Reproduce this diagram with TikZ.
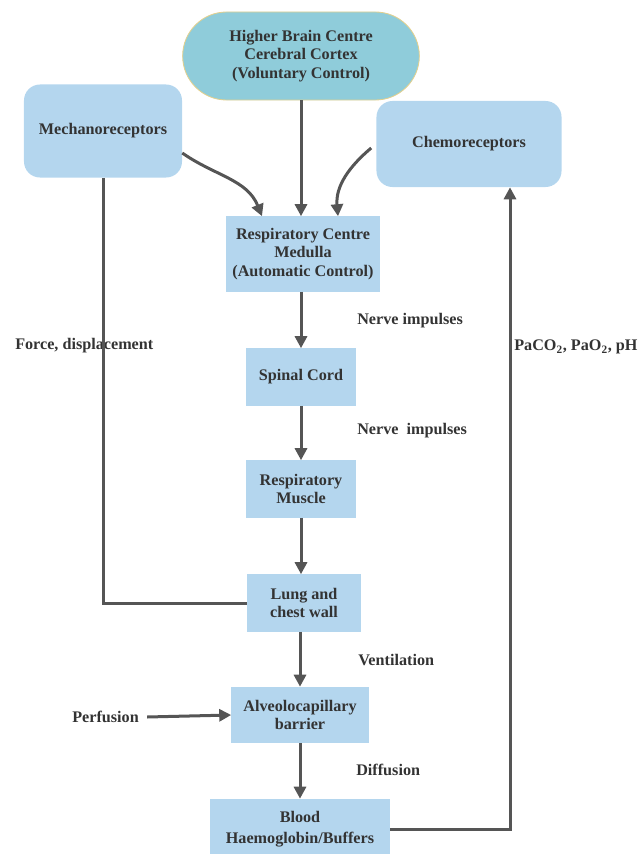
\documentclass[tikz,border=0pt]{standalone}
\usepackage{fontspec}
\setmainfont{Liberation Serif}[BoldFont={Liberation Serif Bold}]
\usepackage{xcolor}
\usetikzlibrary{shapes,arrows.meta,positioning,calc}

\definecolor{boxblue}{HTML}{B4D6EE}
\definecolor{cortexfill}{HTML}{8FCCDA}
\definecolor{cortexedge}{HTML}{E2D08E}
\definecolor{linegray}{HTML}{555555}
\definecolor{txtgray}{HTML}{333333}

\begin{document}
\begin{tikzpicture}[
    x=0.025cm, y=0.025cm,
    every node/.style={font=\rmfamily\bfseries\fontsize{11.5}{13}\selectfont, text=txtgray},
    box/.style={fill=boxblue, align=center, inner sep=2pt},
    roundbox/.style={box, rounded corners=0.4cm},
    lbl/.style={anchor=west, inner sep=0pt},
    link/.style={draw=linegray, line width=0.075cm},
    arrow/.style={link, -{Triangle[length=0.3cm, width=0.3cm]}}
]
\useasboundingbox (0,0) rectangle (643,-854);

% Top: voluntary control
\node[rounded rectangle, fill=cortexfill, draw=cortexedge, line width=0.6pt, align=center,
      minimum width=6.15cm, minimum height=2.2cm] (cortex) at (301,-56)
      {Higher Brain Centre\\Cerebral Cortex\\(Voluntary Control)};

% Receptors
\node[roundbox, minimum width=3.95cm, minimum height=2.325cm] (mech) at (103,-131) {Mechanoreceptors};
\node[roundbox, minimum width=4.625cm, minimum height=2.15cm] (chemo) at (469,-144) {Chemoreceptors};

% Main chain
\node[box, minimum width=3.825cm, minimum height=1.875cm] (centre) at (303,-254)
      {Respiratory Centre\\Medulla\\(Automatic Control)};
\node[box, minimum width=2.725cm, minimum height=1.425cm] (spinal) at (301,-377) {Spinal Cord};
\node[box, minimum width=2.725cm, minimum height=1.425cm] (muscle) at (301,-489) {Respiratory\\Muscle};
\node[box, minimum width=2.85cm, minimum height=1.425cm] (lung) at (304,-603) {Lung and\\chest wall};
\node[box, minimum width=3.425cm, minimum height=1.4cm] (alveo) at (300,-715) {Alveolocapillary\\barrier};
\node[box, minimum width=4.5cm, minimum height=1.5cm] (blood) at (300,-829) {Blood\\[2pt]Haemoglobin/Buffers};

% Labels
\node[lbl] (nerve1) at (357,-321) {Nerve impulses};
\node[lbl] (nerve2) at (357,-431) {Nerve\ \ impulses};
\node[lbl] (vent) at (358,-660) {Ventilation};
\node[lbl] (diff) at (356,-770) {Diffusion};
\node[lbl] (force) at (15,-346) {Force, displacement};
\node[lbl] (gases) at (514,-347) {PaCO\textsubscript{2}, PaO\textsubscript{2}, pH};
\node[lbl] (perf) at (72,-717) {Perfusion};

% Arrows
\draw[arrow] (cortex.south) -- (cortex.south |- centre.north);
\draw[arrow] ($(mech.east)+(0,-22)$) to[out=-35, in=112] ($(centre.north)+(-41,0)$);
\draw[arrow] ($(chemo.west)+(-5,-4)$) to[out=-140, in=95] ($(centre.north)+(35,0)$);
\draw[arrow] (centre.south -| spinal.north) -- (spinal.north);
\draw[arrow] (spinal) -- (muscle);
\draw[arrow] (muscle) -- (muscle |- lung.north);
\draw[arrow] (lung.south -| alveo.north) -- (alveo.north);
\draw[arrow] (alveo) -- (blood);
\draw[arrow] ($(perf.east)+(8,0)$) -- (alveo.west);
\draw[link] (mech.south) |- (lung.west);
\draw[arrow] (blood.east) -| ($(chemo.south)+(41,0)$);

\end{tikzpicture}
\end{document}
